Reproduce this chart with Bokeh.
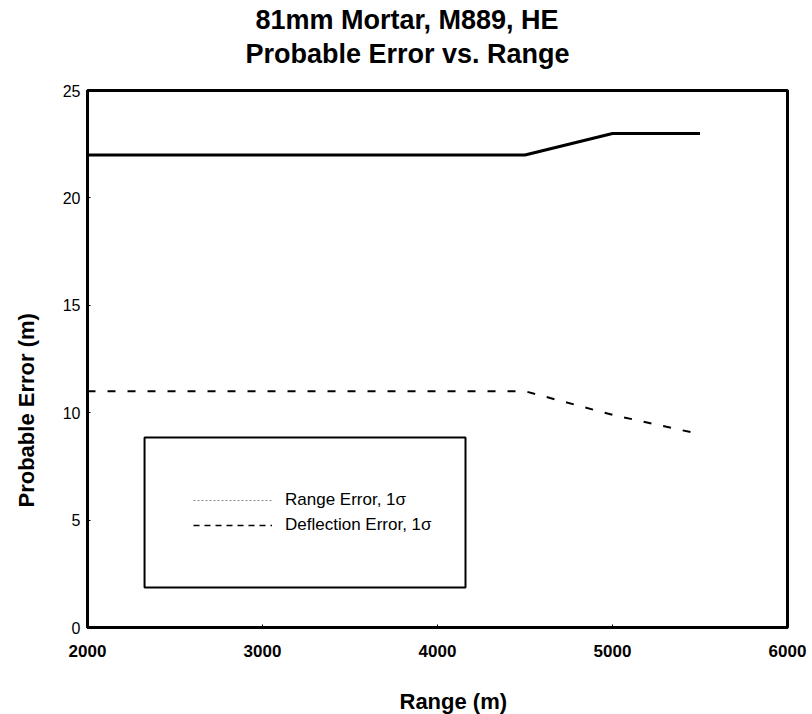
import math
from bokeh.plotting import figure
from bokeh.models import (Range1d, FixedTicker, Legend, LegendItem,
                          BoxAnnotation, Title)
from bokeh.embed import file_html
from bokeh.resources import INLINE

# ---- data ----
range_m = [2000, 4500, 5000, 5500]
range_error = [22, 22, 23, 23]
deflection_error = [11, 11, 9.9, 9]
x_ticks = [2000, 3000, 4000, 5000, 6000]
y_ticks = [0, 5, 10, 15, 20, 25]
title_lines = ["81mm Mortar, M889, HE", "Probable Error vs. Range"]
x_label = "Range (m)"
y_label = "Probable Error (m)"
legend_labels = ["Range Error, 1σ", "Deflection Error, 1σ"]

FONT = "Liberation Sans"
NAN = float("nan")

p = figure(width=812, height=714, output_backend="svg", toolbar_location=None,
           x_range=Range1d(2000, 6000), y_range=Range1d(0, 25),
           min_border_left=87, min_border_right=25,
           min_border_top=90, min_border_bottom=87)

p.background_fill_color = "white"
p.border_fill_color = "white"
p.outline_line_color = "black"
p.outline_line_width = 3
p.xgrid.visible = False
p.ygrid.visible = False

for ax in (p.xaxis[0], p.yaxis[0]):
    ax.axis_line_color = "black"
    ax.axis_line_width = 3
    ax.major_tick_in = 3
    ax.major_tick_out = 0
    ax.minor_tick_line_color = None
    ax.major_tick_line_color = "black"
    ax.major_label_text_font = FONT
    ax.major_label_text_color = "black"

p.xaxis.ticker = FixedTicker(ticks=x_ticks)
p.yaxis.ticker = FixedTicker(ticks=y_ticks)
p.xaxis.major_label_text_font_size = "17px"
p.xaxis.major_label_text_font_style = "bold"
p.xaxis.major_label_standoff = 17
p.yaxis.major_label_text_font_size = "16px"
p.yaxis.major_label_standoff = 7

# data lines
p.line(range_m, range_error, line_color="black", line_width=3)
p.line(range_m, deflection_error, line_color="black", line_width=2,
       line_dash="8 12")

# legend (sample styles as printed in the legend box)
leg_r1 = p.line(x=[NAN], y=[NAN], line_color="#8a8a8a", line_width=1,
                line_dash="2 2")
leg_r2 = p.line(x=[NAN], y=[NAN], line_color="black", line_width=1.5,
                line_dash="6 5")
legend = Legend(items=[LegendItem(label=legend_labels[0], renderers=[leg_r1]),
                       LegendItem(label=legend_labels[1], renderers=[leg_r2])],
                location=(106, 90), padding=0, spacing=1,
                glyph_width=79, glyph_height=24, label_height=24,
                label_standoff=13, border_line_alpha=0,
                background_fill_alpha=0,
                label_text_font=FONT, label_text_font_size="17px",
                label_text_color="black")
p.add_layout(legend)

box = BoxAnnotation(left=2326, right=4160, bottom=1.86, top=8.85,
                    fill_alpha=0, line_color="black", line_alpha=1,
                    line_width=2)
p.add_layout(box)


def spacer(gap):
    return Title(text=" ", text_font_size="1px", standoff=gap,
                 text_color="white")


# titles (closest to the plot first)
p.add_layout(spacer(16), "above")
p.add_layout(Title(text=title_lines[1], align="left", offset=158,
                   text_font=FONT, text_font_size="27px",
                   text_font_style="bold", text_color="black", standoff=5),
             "above")
p.add_layout(Title(text=title_lines[0], align="left", offset=168,
                   text_font=FONT, text_font_size="27px",
                   text_font_style="bold", text_color="black", standoff=0),
             "above")

# axis labels
p.add_layout(spacer(24), "below")
p.add_layout(Title(text=x_label, align="left", offset=312,
                   text_font=FONT, text_font_size="22px",
                   text_font_style="bold", text_color="black", standoff=0),
             "below")
p.add_layout(spacer(18), "left")
p.add_layout(Title(text=y_label, align="left", offset=120,
                   text_font=FONT, text_font_size="22px",
                   text_font_style="bold", text_color="black", standoff=0),
             "left")

open("out.html", "w").write(file_html(p, INLINE))
